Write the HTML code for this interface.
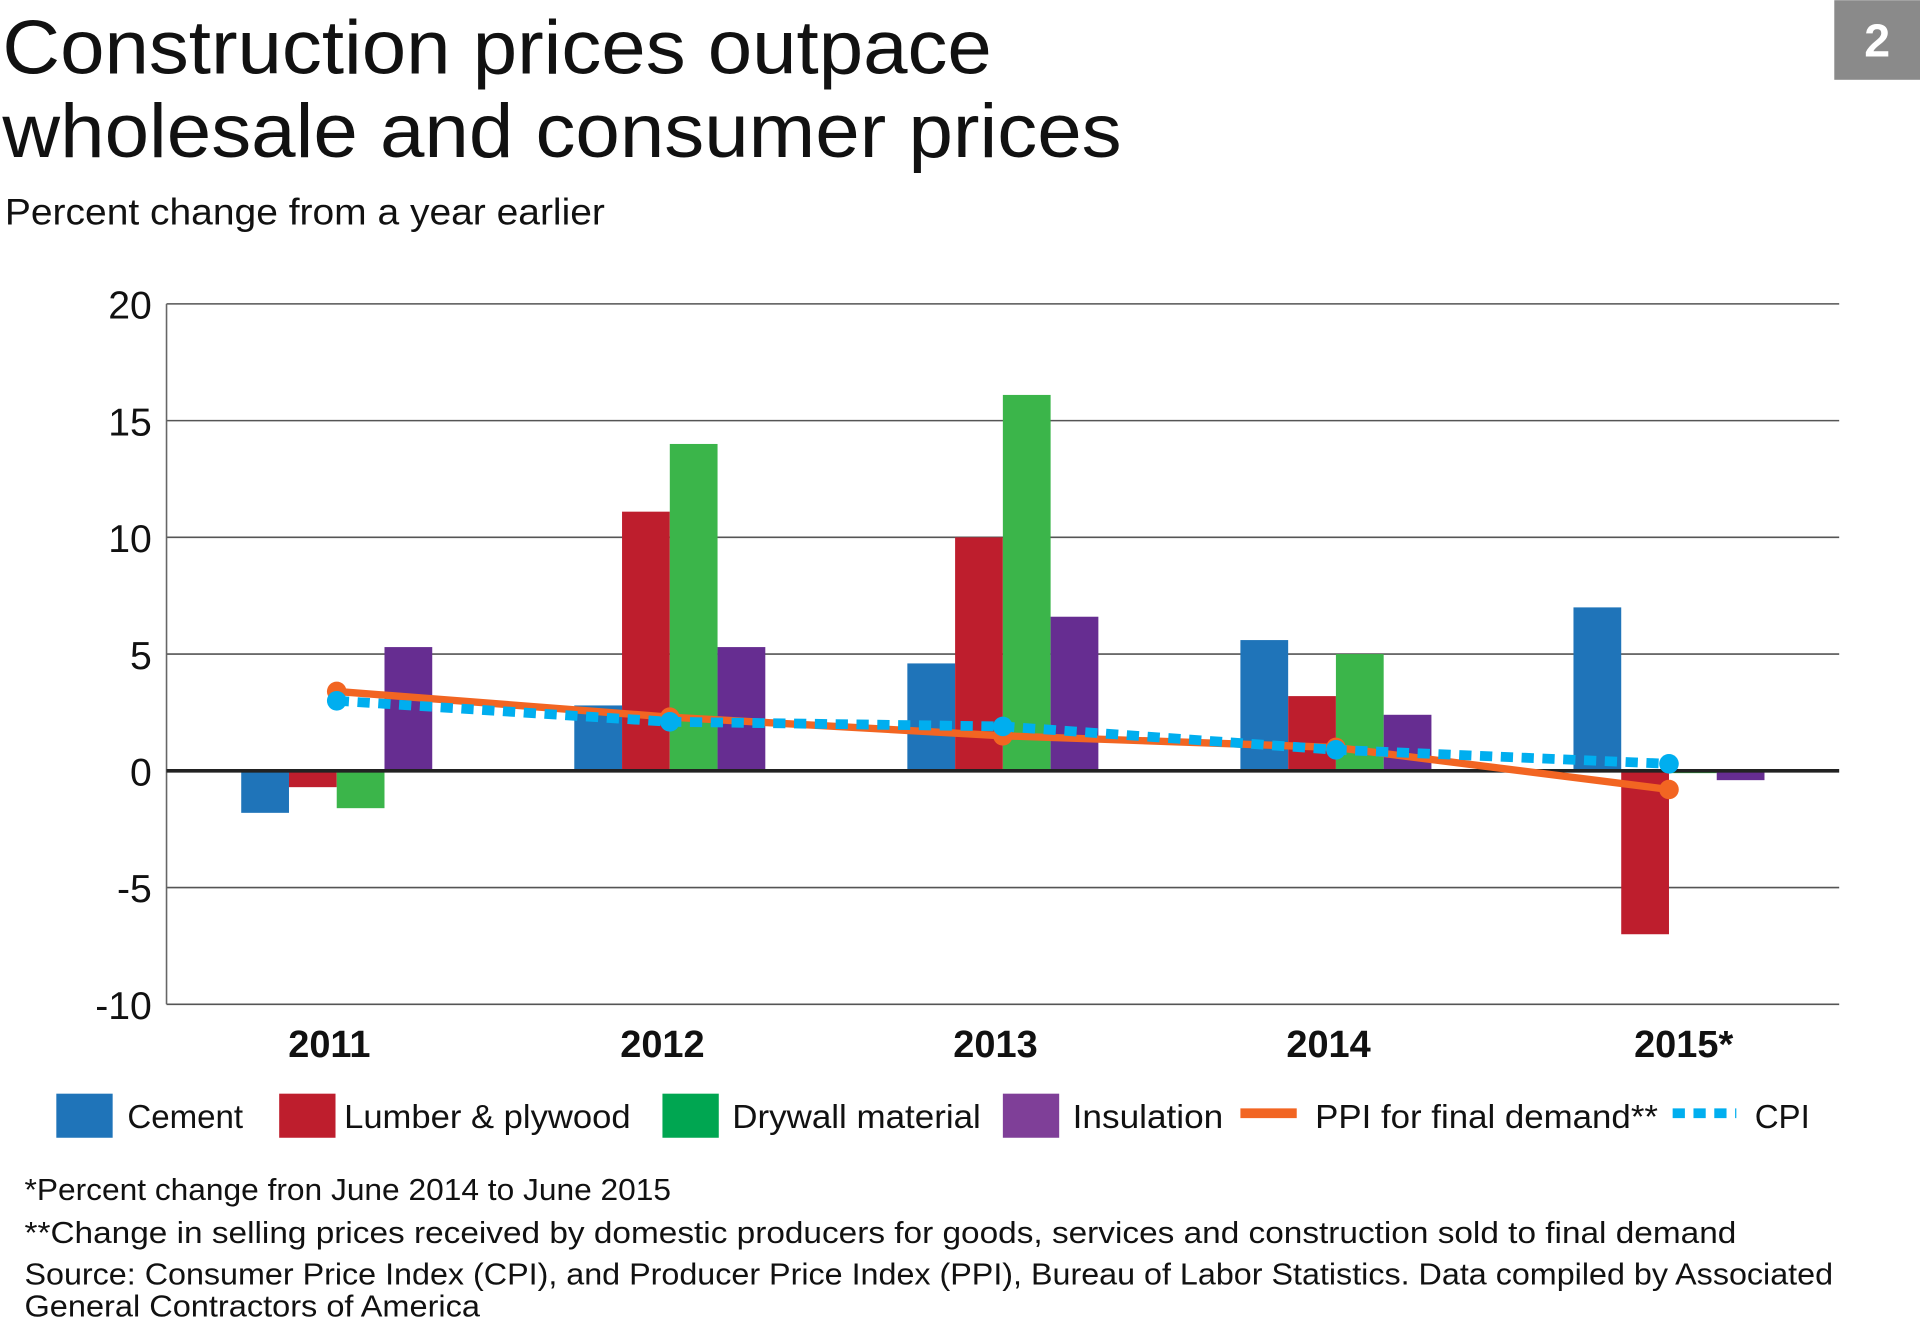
<!DOCTYPE html>
<html><head><meta charset="utf-8"><style>
html,body{margin:0;padding:0;background:#fff;width:1920px;height:1340px;overflow:hidden}
svg{display:block}
text{font-family:"Liberation Sans",sans-serif;fill:#111}
</style></head><body>
<svg id="chart" width="1920" height="1340" viewBox="0 0 1568 1094" xmlns="http://www.w3.org/2000/svg">
<text x="2" y="60" font-size="62" textLength="808" lengthAdjust="spacingAndGlyphs">Construction prices outpace</text>
<text x="2" y="128" font-size="62" textLength="914" lengthAdjust="spacingAndGlyphs">wholesale and consumer prices</text>
<text x="4" y="183" font-size="30" textLength="490" lengthAdjust="spacingAndGlyphs">Percent change from a year earlier</text>
<rect x="1498" y="0" width="70" height="65" fill="#8a8a8a"/>
<text x="1533" y="46" font-size="38" font-weight="bold" text-anchor="middle" style="fill:#fff">2</text>
<g id="grid"></g><g id="bars"></g><g id="lines"></g><g id="labels"></g>
<g>
<rect x="46" y="893" width="46" height="36" fill="#1f74b9"/>
<text x="104" y="921" font-size="27">Cement</text>
<rect x="228" y="893" width="46" height="36" fill="#be1e2d"/>
<text x="281" y="921" font-size="27" textLength="234" lengthAdjust="spacingAndGlyphs">Lumber &amp; plywood</text>
<rect x="541" y="893" width="46" height="36" fill="#00a651"/>
<text x="598" y="921" font-size="27" textLength="203" lengthAdjust="spacingAndGlyphs">Drywall material</text>
<rect x="819" y="893" width="46" height="36" fill="#7f3f98"/>
<text x="876" y="921" font-size="27" textLength="123" lengthAdjust="spacingAndGlyphs">Insulation</text>
<line x1="1013" y1="909" x2="1059" y2="909" stroke="#f26522" stroke-width="8"/>
<text x="1074" y="921" font-size="27" textLength="280" lengthAdjust="spacingAndGlyphs">PPI for final demand**</text>
<line x1="1366" y1="909" x2="1418" y2="909" stroke="#00aeef" stroke-width="8" stroke-dasharray="10,7"/>
<text x="1433" y="921" font-size="27">CPI</text>
</g>
<text x="20" y="980" font-size="25" textLength="528" lengthAdjust="spacingAndGlyphs">*Percent change fron June 2014 to June 2015</text>
<text x="20" y="1015" font-size="25" textLength="1398" lengthAdjust="spacingAndGlyphs">**Change in selling prices received by domestic producers for goods, services and construction sold to final demand</text>
<text x="20" y="1049" font-size="25" textLength="1477" lengthAdjust="spacingAndGlyphs">Source: Consumer Price Index (CPI), and Producer Price Index (PPI), Bureau of Labor Statistics. Data compiled by Associated</text>
<text x="20" y="1075" font-size="25" textLength="372" lengthAdjust="spacingAndGlyphs">General Contractors of America</text>
</svg>
<script>
const categories = ["2011","2012","2013","2014","2015*"];
const cement = [-1.8, 2.8, 4.6, 5.6, 7.0];
const lumber = [-0.7, 11.1, 10.0, 3.2, -7.0];
const drywall = [-1.6, 14.0, 16.1, 5.0, -0.1];
const insulation = [5.3, 5.3, 6.6, 2.4, -0.4];
const ppi = [3.4, 2.3, 1.5, 1.0, -0.8];
const cpi = [3.0, 2.1, 1.9, 0.9, 0.3];
const yTicks = [20, 15, 10, 5, 0, -5, -10];

const NS = "http://www.w3.org/2000/svg";
const yMin = -10, yMax = 20, plotTop = 248, plotBottom = 820, plotLeft = 136, plotRight = 1502;
function y(v){ return plotBottom - (v - yMin) / (yMax - yMin) * (plotBottom - plotTop); }
const groupStart = 275, groupStep = 272, barW = 39;
function xc(i){ return groupStart + i * groupStep; }
function mk(tag, attrs, parent){ const e = document.createElementNS(NS, tag); for (const k in attrs) e.setAttribute(k, attrs[k]); parent.appendChild(e); return e; }

const grid = document.getElementById("grid");
yTicks.forEach(t => {
  if (t !== 0) {
    const l = mk("line", {x1: plotLeft, x2: plotRight, y1: y(t), y2: y(t), stroke: "#555", "stroke-width": 1.3}, grid);
    
    
  }
  const tx = mk("text", {x: 124, y: y(t) + 12, "font-size": 32, "text-anchor": "end"}, grid);
  tx.textContent = t;
  
  
});
const ax = mk("line", {x1: plotLeft, x2: plotLeft, y1: plotTop, y2: plotBottom, stroke: "#666", "stroke-width": 1.3}, grid);



const bars = document.getElementById("bars");
const series = [[cement, "#1f74b9", "cement"], [lumber, "#be1e2d", "lumber"], [drywall, "#3bb54a", "drywall"], [insulation, "#662d91", "insulation"]];
series.forEach((s, si) => {
  s[0].forEach((v, i) => {
    const x0 = xc(i) - 2 * barW + si * barW;
    const y0 = Math.min(y(v), y(0)), h = Math.abs(y(v) - y(0));
    const r = mk("rect", {x: x0, y: y0, width: barW, height: Math.max(h, 0.8), fill: s[1]}, bars);
    
    
  });
});
const zl = mk("line", {x1: plotLeft, x2: plotRight, y1: y(0), y2: y(0), stroke: "#222", "stroke-width": 3}, bars);



const lines = document.getElementById("lines");
function drawLine(vals, color, name, dash, width){
  const pts = vals.map((v, i) => xc(i) + "," + y(v)).join(" ");
  const pl = mk("polyline", {points: pts, fill: "none", stroke: color, "stroke-width": width}, lines);
  if (dash) pl.setAttribute("stroke-dasharray", dash);
  
  
  vals.forEach((v, i) => {
    const c = mk("circle", {cx: xc(i), cy: y(v), r: 8, fill: color}, lines);
    
    
  });
}
drawLine(ppi, "#f26522", "ppi", null, 6);
drawLine(cpi, "#00aeef", "cpi", "10,7", 8);

const labels = document.getElementById("labels");
categories.forEach((c, i) => {
  const t = mk("text", {x: xc(i) - 6 + (c.length > 4 ? 18 : 0), y: 863, "font-size": 31, "font-weight": "bold", "text-anchor": "middle"}, labels);
  t.textContent = c;
  
  
});
</script>
</body></html>
